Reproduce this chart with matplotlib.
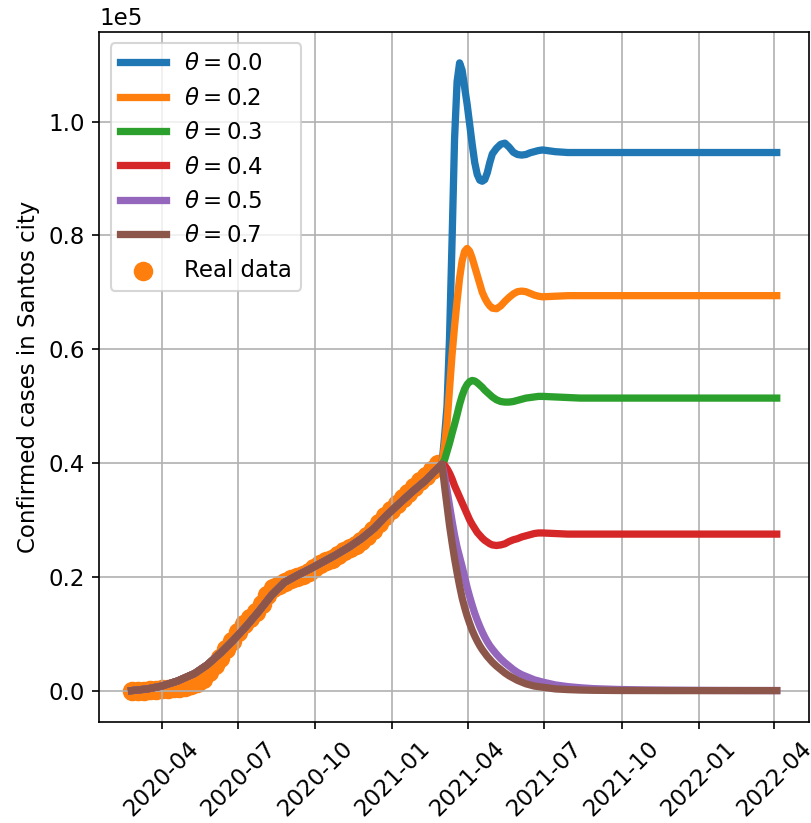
import matplotlib
matplotlib.use("Agg")
import matplotlib.pyplot as plt
import matplotlib.dates as mdates
import pandas as pd

# ---------------- data ----------------
# weekly samples of the real (observed) confirmed cases
real_start = "2020-02-26"
real_cases = [0, 0, 0, 100, 100, 200, 300, 400, 500, 700,
              900, 1300, 2000, 3200, 4500, 5800, 7300, 8800, 10300, 11700,
              12700, 13800, 15200, 16800, 18000, 18600, 19000, 19600, 20000, 20400,
              20900, 21500, 22200, 22800, 23200, 23800, 24500, 25000, 25600, 26300,
              27200, 28300, 29500, 30700, 31800, 32800, 33800, 34800, 35800, 36800,
              37700, 38800, 39800]

# model fit before the intervention date (shared by every theta)
fit_dates = ["2020-02-25", "2020-03-15", "2020-04-01", "2020-04-20", "2020-05-10",
             "2020-05-25", "2020-06-10", "2020-06-25", "2020-07-10", "2020-07-25",
             "2020-08-10", "2020-08-25", "2020-09-10", "2020-09-25", "2020-10-10",
             "2020-10-25", "2020-11-10", "2020-11-25", "2020-12-10", "2020-12-25",
             "2021-01-10", "2021-01-25", "2021-02-10", "2021-02-20"]
fit_cases = [0, 300, 800, 1700, 3000, 4500, 6600, 8800, 11200, 13800,
             16800, 19000, 20300, 21400, 22600, 23800, 25200, 26700, 28500, 30800,
             33000, 35000, 37000, 38500]

# projections after the intervention date
turn_date = "2021-03-01"
proj_offset_days = [0, 3, 6, 9, 12, 15, 18, 21, 24, 27, 30, 33, 36, 39, 42, 45, 48, 51, 54, 57,
                    60, 65, 70, 75, 80, 85, 90, 95, 100, 105, 110, 115, 120,
                    135, 150, 165, 180, 210, 240, 270, 300, 330, 360, 399]

theta_labels = ["0.0", "0.2", "0.3", "0.4", "0.5", "0.7"]

proj_theta_00 = [39800, 44500, 50000, 62000, 79000, 97000, 107000, 110300, 109000, 106000,
                 103000, 99500, 96000, 92800, 90700, 89700, 89500, 89800, 91000, 92800,
                 94300, 95300, 96000, 96200, 95500, 94600, 94200, 94100, 94200, 94500,
                 94700, 94900, 95000, 94700, 94550, 94550, 94550, 94550, 94550, 94550,
                 94550, 94550, 94550, 94550]
proj_theta_02 = [39800, 43000, 47000, 53000, 59000, 64000, 68500, 72500, 75500, 77200,
                 77700, 77200, 76000, 74500, 73000, 71500, 70000, 69000, 68200, 67600,
                 67200, 67100, 67600, 68400, 69100, 69700, 70100, 70200, 70100, 69800,
                 69500, 69300, 69200, 69300, 69400, 69400, 69400, 69400, 69400, 69400,
                 69400, 69400, 69400, 69400]
proj_theta_03 = [39800, 40500, 42000, 43500, 45200, 46800, 48500, 50300, 51800, 53000,
                 53800, 54300, 54500, 54400, 54100, 53700, 53300, 52800, 52400, 52000,
                 51600, 51100, 50800, 50700, 50700, 50800, 51000, 51200, 51400, 51500,
                 51600, 51700, 51700, 51600, 51500, 51400, 51400, 51400, 51400, 51400,
                 51400, 51400, 51400, 51400]
proj_theta_04 = [39800, 39600, 39000, 38200, 37200, 36000, 35000, 34000, 33000, 32000,
                 31000, 30000, 29200, 28500, 27800, 27300, 26800, 26400, 26100, 25800,
                 25600, 25500, 25600, 25800, 26200, 26500, 26700, 27000, 27200, 27400,
                 27600, 27700, 27700, 27600, 27500, 27500, 27500, 27500, 27500, 27500,
                 27500, 27500, 27500, 27500]
proj_theta_05 = [39800, 37800, 35200, 32500, 29800, 27300, 25200, 23500, 21800, 20000,
                 18100, 16500, 15000, 13600, 12400, 11300, 10300, 9400, 8600, 7900,
                 7300, 6400, 5600, 4900, 4300, 3700, 3200, 2800, 2500, 2200,
                 1900, 1700, 1500, 1000, 700, 500, 350, 200, 120, 80,
                 50, 30, 20, 10]
proj_theta_07 = [39800, 36000, 32500, 29000, 26000, 23200, 20700, 18400, 16300, 14600,
                 13100, 11800, 10600, 9600, 8700, 7900, 7200, 6600, 6000, 5500,
                 5000, 4300, 3700, 3100, 2600, 2200, 1800, 1500, 1200, 1000,
                 800, 700, 600, 300, 180, 100, 60, 20, 10, 0,
                 0, 0, 0, 0]

projections = [proj_theta_00, proj_theta_02, proj_theta_03,
               proj_theta_04, proj_theta_05, proj_theta_07]
colors = ["#1f77b4", "#ff7f0e", "#2ca02c", "#d62728", "#9467bd", "#8c564b"]

# ---------------- plot ----------------
plt.rcParams["font.size"] = 11
W, H, DPI = 811, 823, 150
fig = plt.figure(figsize=(W / DPI, H / DPI), dpi=DPI)
ax = fig.add_axes([99.3 / W, 1 - 722 / H, (809 - 99.3) / W, (722 - 31.5) / H])

proj_dates = pd.Timestamp(turn_date) + pd.to_timedelta(proj_offset_days, unit="D")
line_dates = list(pd.to_datetime(fit_dates)) + list(proj_dates)

for lab, proj, col in zip(theta_labels, projections, colors):
    ax.plot(line_dates, fit_cases + proj, color=col, lw=3.5,
            label=rf"$\theta = {lab}$")

real_dates = pd.date_range(real_start, periods=len(real_cases), freq="7D")
ax.scatter(real_dates, real_cases, s=70, color="#ff7f0e", label="Real data")

ax.set_ylabel("Confirmed cases in Santos city")
ax.ticklabel_format(axis="y", style="sci", scilimits=(0, 0))
ax.xaxis.set_major_locator(mdates.MonthLocator(bymonth=[1, 4, 7, 10]))
ax.xaxis.set_major_formatter(mdates.DateFormatter("%Y-%m"))
plt.setp(ax.get_xticklabels(), rotation=45)
ax.grid(True)
ax.legend(loc="upper left")

fig.savefig("out.png", dpi=DPI)
